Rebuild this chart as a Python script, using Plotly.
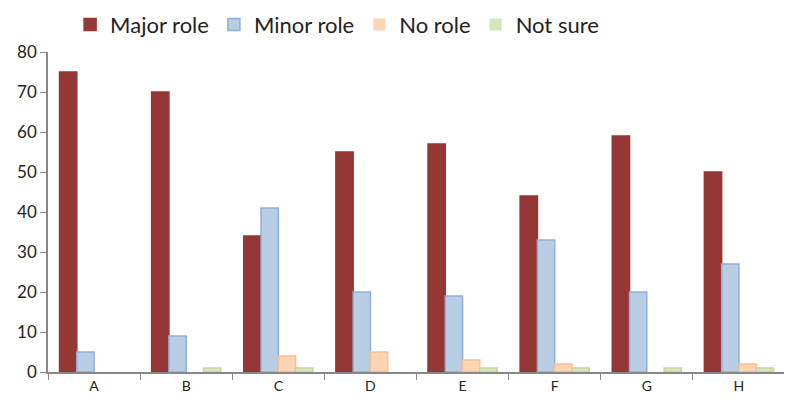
import plotly.graph_objects as go

# 类别与数值
categories = ['A', 'B', 'C', 'D', 'E', 'F', 'G', 'H']
major_role = [75, 70, 34, 55, 57, 44, 59, 50]
minor_role = [5, 9, 41, 20, 19, 33, 20, 27]
no_role = [0, 0, 4, 5, 3, 2, 0, 2]
not_sure = [0, 1, 1, 0, 1, 1, 1, 1]

series = [
    ('Major role', major_role, '#953735', '#953735'),
    ('Minor role', minor_role, '#B9CDE5', '#8DB0DA'),
    ('No role', no_role, '#FCD5B5', '#F9BF8F'),
    ('Not sure', not_sure, '#D7E4BD', '#C3D69B'),
]

fig = go.Figure()
for name, vals, fill, edge in series:
    fig.add_trace(go.Bar(
        x=categories,
        y=vals,
        name=name,
        marker=dict(
            color=fill,
            line=dict(color=edge, width=[0 if v == 0 else 1.5 for v in vals])
        )
    ))

fig.update_layout(
    width=792,
    height=405,
    margin=dict(l=40, r=15, t=44, b=41, autoexpand=False),
    plot_bgcolor='white',
    paper_bgcolor='white',
    barmode='group',
    bargap=0.25,
    bargroupgap=0,
    font=dict(family='Lato, Liberation Sans, sans-serif', color='#222222'),
    legend=dict(
        orientation='h',
        x=0.03, xanchor='left',
        y=1.085, yanchor='middle',
        font=dict(size=22),
        itemwidth=30,
        tracegroupgap=0,
        traceorder='normal',
    ),
    showlegend=True,
)
fig.update_xaxes(
    showline=True, linecolor='#888888', linewidth=1.5,
    ticks='outside', tickson='boundaries', ticklen=6, tickcolor='#888888',
    tickfont=dict(size=14), showgrid=False,
)
fig.update_yaxes(
    range=[0, 80], dtick=10,
    showline=True, linecolor='#888888', linewidth=1.5,
    ticks='outside', ticklen=6, tickcolor='#888888',
    tickfont=dict(size=17), showgrid=False, zeroline=False,
)

fig.write_html("out.html")
